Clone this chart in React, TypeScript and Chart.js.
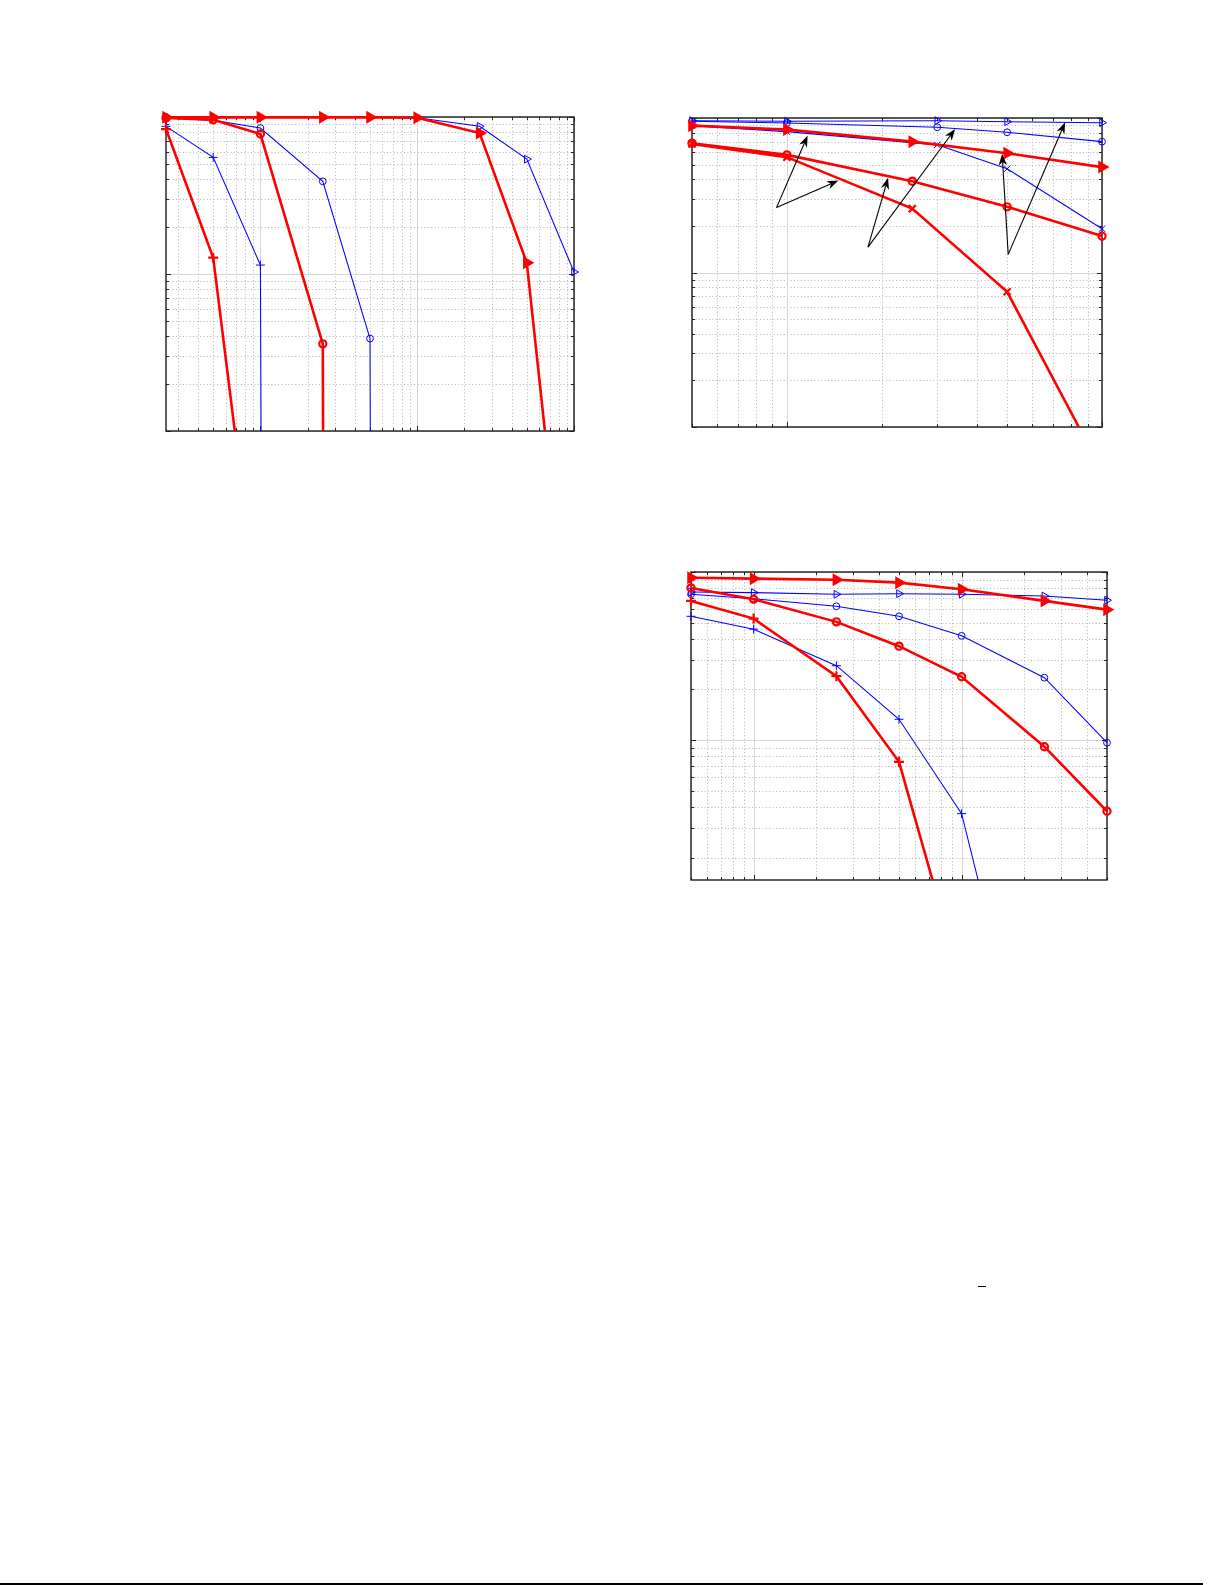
import React, { useEffect, useRef } from 'react';
import { Chart, registerables } from 'chart.js';

Chart.register(...registerables);

// a zero count: plotted as a drop straight off the bottom of a log axis
const ZERO = 1e-100;

// ---------- Panel A (top left) ----------
const xA = [0.025, 0.05, 0.1, 0.25, 0.5, 1, 2.5, 5, 10];
const aRedTri = [0.995, 0.995, 0.995, 0.995, 0.995, 0.99, 0.79, 0.118, 1.9e-4];
const aBlueTri = [0.998, 0.998, 0.998, 0.998, 0.998, 0.99, 0.872, 0.539, 0.103];
const aRedCirc = [0.985, 0.96, 0.779, 0.0359, ZERO, ZERO, ZERO, ZERO, ZERO];
const aBlueCirc = [0.985, 0.952, 0.851, 0.389, 0.0388, ZERO, ZERO, ZERO, ZERO];
const aRedPlus = [0.838, 0.127, 4.9e-4, ZERO, ZERO, ZERO, ZERO, ZERO, ZERO];
const aBluePlus = [0.872, 0.553, 0.114, ZERO, ZERO, ZERO, ZERO, ZERO, ZERO];

// ---------- Panel B (top right) ----------
const xBRed = [0.5, 1, 2.5, 5, 10];
const xBBlue = [0.5, 1, 3, 5, 10];
const bBlueTri = [0.961, 0.952, 0.961, 0.947, 0.933];
const bBlueCirc = [0.952, 0.928, 0.871, 0.808, 0.703];
const bBlueX = [0.892, 0.816, 0.67, 0.469, 0.192];
const bRedTri = [0.892, 0.841, 0.703, 0.592, 0.481];
const bRedCirc = [0.686, 0.577, 0.39, 0.266, 0.172];
const bRedX = [0.68, 0.558, 0.259, 0.075, 0.0052];
// annotation arrows (data coordinates): tail -> head
const bArrowTails = [[0.927, 0.263], [0.927, 0.263], [1.809, 0.146], [1.809, 0.146], [5.04, 0.131], [5.04, 0.131]];
const bArrowHeads = [[1.164, 0.769], [1.458, 0.394], [2.095, 0.41], [3.42, 0.849], [4.82, 0.586], [7.64, 0.938]];

// ---------- Panel C (middle right) ----------
const xC = [0.5, 1, 2.5, 5, 10, 25, 50];
const cRedTri = [0.925, 0.913, 0.9, 0.864, 0.789, 0.673, 0.597];
const cBlueTri = [0.76, 0.754, 0.737, 0.743, 0.737, 0.72, 0.679];
const cRedCirc = [0.804, 0.688, 0.505, 0.362, 0.238, 0.0913, 0.0377];
const cBlueCirc = [0.737, 0.694, 0.625, 0.545, 0.417, 0.235, 0.0964];
const cRedPlus = [0.673, 0.528, 0.24, 0.0742, 0.0036, ZERO, ZERO];
const cBluePlus = [0.545, 0.457, 0.277, 0.133, 0.0365, 3.8e-4, ZERO];

const RED = '#ff0000';
const BLUE = '#0000ff';
const PAD = 14;

type Marker = 'tri' | 'circ' | 'plus' | 'x';

function series(xs: number[], ys: number[], color: 'red' | 'blue', marker: Marker) {
  const red = color === 'red';
  const c = red ? RED : BLUE;
  const style = marker === 'tri' ? 'triangle' : marker === 'circ' ? 'circle' : marker === 'plus' ? 'cross' : 'crossRot';
  const radius = marker === 'tri' ? (red ? 5.3 : 4.5) : marker === 'circ' ? (red ? 3.6 : 3.4) : red ? 5 : 4.5;
  return {
    data: xs.map((x, i) => ({ x, y: ys[i] })),
    borderColor: c,
    borderWidth: red ? 2.6 : 1.05,
    pointStyle: style,
    pointRotation: marker === 'tri' ? 90 : 0,
    pointRadius: radius,
    pointHoverRadius: radius,
    pointBorderColor: c,
    pointBackgroundColor: red && marker === 'tri' ? c : 'rgba(0,0,0,0)',
    pointBorderWidth: red ? 2.2 : 1,
    tension: 0,
    fill: false,
    order: red ? 0 : 1,
    clip: { left: PAD, top: PAD, right: PAD, bottom: 0 },
  };
}

function logTicks(min: number, max: number) {
  const out: { v: number; major: boolean }[] = [];
  const e0 = Math.floor(Math.log10(min));
  const e1 = Math.ceil(Math.log10(max));
  for (let e = e0; e <= e1; e++) {
    for (let k = 1; k <= 9; k++) {
      const v = k * Math.pow(10, e);
      if (v >= min * (1 - 1e-9) && v <= max * (1 + 1e-9)) out.push({ v, major: k === 1 });
    }
  }
  return out;
}

function makeAxesPlugin(tails: number[][], heads: number[][]) {
  return {
    id: 'matlabAxes',
    beforeDatasetsDraw(chart: any) {
      const { ctx, chartArea: a } = chart;
      const x = chart.scales.x;
      const y = chart.scales.y;
      const xt = logTicks(x.min, x.max);
      const yt = logTicks(y.min, y.max);
      ctx.save();
      ctx.lineWidth = 1;
      // minor dotted grid
      ctx.strokeStyle = '#b2b2b2';
      ctx.setLineDash([1, 2.4]);
      ctx.beginPath();
      xt.forEach((t) => {
        if (t.major) return;
        const px = Math.round(x.getPixelForValue(t.v)) + 0.5;
        ctx.moveTo(px, a.top);
        ctx.lineTo(px, a.bottom);
      });
      yt.forEach((t) => {
        if (t.major) return;
        const py = Math.round(y.getPixelForValue(t.v)) + 0.5;
        ctx.moveTo(a.left, py);
        ctx.lineTo(a.right, py);
      });
      ctx.stroke();
      // major solid grid
      ctx.setLineDash([]);
      ctx.strokeStyle = '#d6d6d6';
      ctx.beginPath();
      xt.forEach((t) => {
        if (!t.major) return;
        const px = Math.round(x.getPixelForValue(t.v)) + 0.5;
        ctx.moveTo(px, a.top);
        ctx.lineTo(px, a.bottom);
      });
      yt.forEach((t) => {
        if (!t.major) return;
        const py = Math.round(y.getPixelForValue(t.v)) + 0.5;
        ctx.moveTo(a.left, py);
        ctx.lineTo(a.right, py);
      });
      ctx.stroke();
      // inward ticks on all four sides
      ctx.strokeStyle = '#262626';
      ctx.beginPath();
      xt.forEach((t) => {
        const px = Math.round(x.getPixelForValue(t.v)) + 0.5;
        const len = t.major ? 5 : 3;
        ctx.moveTo(px, a.bottom);
        ctx.lineTo(px, a.bottom - len);
        ctx.moveTo(px, a.top);
        ctx.lineTo(px, a.top + len);
      });
      yt.forEach((t) => {
        const py = Math.round(y.getPixelForValue(t.v)) + 0.5;
        const len = t.major ? 5 : 3;
        ctx.moveTo(a.left, py);
        ctx.lineTo(a.left + len, py);
        ctx.moveTo(a.right, py);
        ctx.lineTo(a.right - len, py);
      });
      ctx.stroke();
      // box
      ctx.lineWidth = 1.4;
      ctx.strokeStyle = '#1a1a1a';
      ctx.strokeRect(a.left, a.top, a.right - a.left, a.bottom - a.top);
      ctx.restore();
    },
    afterDatasetsDraw(chart: any) {
      if (!tails.length) return;
      const { ctx } = chart;
      const x = chart.scales.x;
      const y = chart.scales.y;
      ctx.save();
      ctx.strokeStyle = '#000';
      ctx.fillStyle = '#000';
      ctx.lineWidth = 1.1;
      tails.forEach((t, i) => {
        const h = heads[i];
        const x0 = x.getPixelForValue(t[0]);
        const y0 = y.getPixelForValue(t[1]);
        const x1 = x.getPixelForValue(h[0]);
        const y1 = y.getPixelForValue(h[1]);
        const ang = Math.atan2(y1 - y0, x1 - x0);
        const L = 11.5;
        const W = 4.2;
        const bx = x1 - L * Math.cos(ang);
        const by = y1 - L * Math.sin(ang);
        ctx.beginPath();
        ctx.moveTo(x0, y0);
        ctx.lineTo(bx + 0.3 * L * Math.cos(ang), by + 0.3 * L * Math.sin(ang));
        ctx.stroke();
        ctx.beginPath();
        ctx.moveTo(x1, y1);
        ctx.lineTo(bx + W * Math.sin(ang), by - W * Math.cos(ang));
        ctx.lineTo(bx + 0.3 * L * Math.cos(ang), by + 0.3 * L * Math.sin(ang));
        ctx.lineTo(bx - W * Math.sin(ang), by + W * Math.cos(ang));
        ctx.closePath();
        ctx.fill();
      });
      ctx.restore();
    },
  };
}

type PanelSpec = {
  left: number;
  top: number;
  width: number;
  height: number;
  xMin: number;
  xMax: number;
  yMin: number;
  yMax: number;
  datasets: any[];
  tails?: number[][];
  heads?: number[][];
};

function Panel({ spec }: { spec: PanelSpec }) {
  const ref = useRef<HTMLCanvasElement | null>(null);
  const w = spec.width + 2 * PAD;
  const h = spec.height + 2 * PAD;
  useEffect(() => {
    if (!ref.current) return;
    const chart = new Chart(ref.current, {
      type: 'line',
      data: { datasets: spec.datasets },
      options: {
        responsive: false,
        animation: false,
        events: [],
        layout: { padding: PAD },
        plugins: { legend: { display: false }, tooltip: { enabled: false } },
        scales: {
          x: { type: 'logarithmic', min: spec.xMin, max: spec.xMax, display: false },
          y: { type: 'logarithmic', min: spec.yMin, max: spec.yMax, display: false },
        },
      } as any,
      plugins: [makeAxesPlugin(spec.tails || [], spec.heads || [])],
    } as any);
    return () => chart.destroy();
  }, []);
  return (
    <canvas
      ref={ref}
      width={w}
      height={h}
      style={{ position: 'absolute', left: spec.left - PAD, top: spec.top - PAD, width: w, height: h }}
    />
  );
}

const panelA: PanelSpec = {
  left: 166,
  top: 117,
  width: 408,
  height: 314,
  xMin: 0.025,
  xMax: 10,
  yMin: 0.01,
  yMax: 1,
  datasets: [
    series(xA, aRedTri, 'red', 'tri'),
    series(xA, aRedCirc, 'red', 'circ'),
    series(xA, aRedPlus, 'red', 'plus'),
    series(xA, aBlueTri, 'blue', 'tri'),
    series(xA, aBlueCirc, 'blue', 'circ'),
    series(xA, aBluePlus, 'blue', 'plus'),
  ],
};

const panelB: PanelSpec = {
  left: 692,
  top: 118,
  width: 410,
  height: 309,
  xMin: 0.5,
  xMax: 10,
  yMin: 0.01,
  yMax: 1,
  datasets: [
    series(xBRed, bRedTri, 'red', 'tri'),
    series(xBRed, bRedCirc, 'red', 'circ'),
    series(xBRed, bRedX, 'red', 'x'),
    series(xBBlue, bBlueTri, 'blue', 'tri'),
    series(xBBlue, bBlueCirc, 'blue', 'circ'),
    series(xBBlue, bBlueX, 'blue', 'x'),
  ],
  tails: bArrowTails,
  heads: bArrowHeads,
};

const panelC: PanelSpec = {
  left: 691,
  top: 572,
  width: 416,
  height: 308,
  xMin: 0.5,
  xMax: 50,
  yMin: 0.0147,
  yMax: 1,
  datasets: [
    series(xC, cRedTri, 'red', 'tri'),
    series(xC, cRedCirc, 'red', 'circ'),
    series(xC, cRedPlus, 'red', 'plus'),
    series(xC, cBlueTri, 'blue', 'tri'),
    series(xC, cBlueCirc, 'blue', 'circ'),
    series(xC, cBluePlus, 'blue', 'plus'),
  ],
};

export default function App() {
  return (
    <div
      style={{
        position: 'absolute',
        left: 0,
        top: 0,
        width: 1225,
        height: 1585,
        overflow: 'hidden',
        background: '#fff',
      }}
    >
      <Panel spec={panelA} />
      <Panel spec={panelB} />
      <Panel spec={panelC} />
      <div style={{ position: 'absolute', left: 978, top: 1286, width: 8, height: 1, background: '#000' }} />
      <div style={{ position: 'absolute', left: 0, top: 1583, width: 1203, height: 2, background: '#000' }} />
    </div>
  );
}
